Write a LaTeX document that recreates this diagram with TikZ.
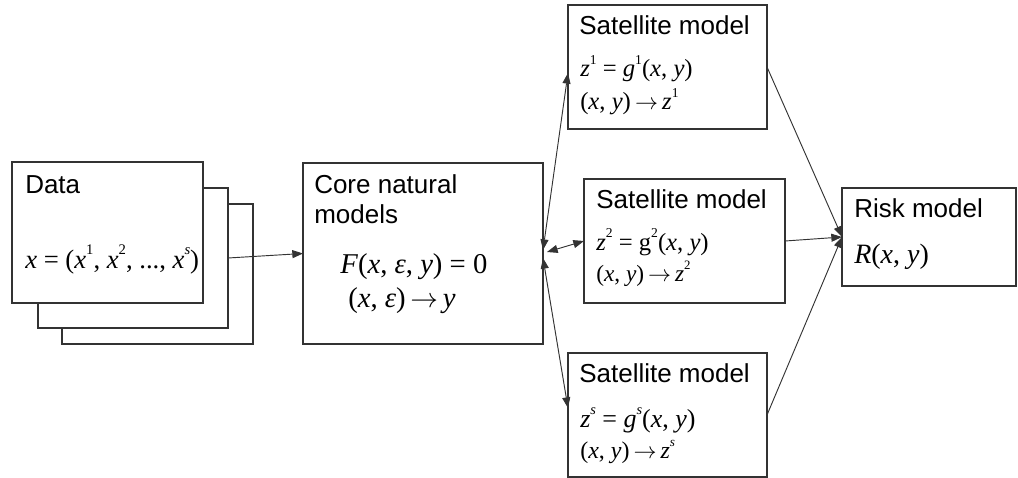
\documentclass[tikz,border=0pt]{standalone}
\usepackage{fontspec}
\setmainfont{Liberation Sans}
\newfontfamily\tms{Liberation Serif}
\usetikzlibrary{arrows.meta,calc}
\tikzset{
	box/.style={draw=black!80, line width=0.9pt, fill=white, anchor=north west, inner sep=0pt, outer sep=0pt},
	wh/.style 2 args={minimum width=#1*0.75pt, minimum height=#2*0.75pt},
	lbl/.style={anchor=base west, inner sep=0pt, font=\fontsize{19.5}{23}\selectfont},
	eq/.style={anchor=base west, inner sep=0pt, font=\fontsize{#1}{#1}\tms},
	link/.style={draw=black!80, line width=0.7pt, arrows={-Triangle[length=8pt,width=6pt]}},
	dlink/.style={draw=black!80, line width=0.7pt, arrows={Triangle[length=8pt,width=6pt]-Triangle[length=8pt,width=6pt]}},
}
\newcommand{\vi}[1]{\textit{#1}}
\newcommand{\up}[1]{\raisebox{0.5em}{\scalebox{0.55}{#1}}}
\newcommand{\ar}{\,$\rightarrow$\,}

\begin{document}
\begin{tikzpicture}[x=0.75pt, y=-0.75pt]
		\useasboundingbox (0,0) rectangle (1018,478);
		%%%%% START %%%%%
		% data stack
		\node[box, wh={191}{140}] (data3) at (62,204) {};
		\node[box, wh={190}{140}] (data2) at (38,188) {};
		\node[box, wh={191}{141}] (data1) at (12,162) {};
		\node[lbl] (datat) at (25,193) {Data};
		\node[eq=20] (datax) at (25,268) {\vi{x} = (\vi{x}\up{1}, \vi{x}\up{2}, ..., \vi{x}\up{\vi{s}})};
		
		% core
		\node[box, wh={240}{181}] (core) at (303,163) {};
		\node[lbl] (coret) at (314,193) {Core natural};
		\node[lbl] (corem) at (314,223) {models};
		\node[eq=21.5] (coref) at (340,273) {\vi{F}(\vi{x}, \vi{ε}, \vi{y}) = 0};
		\node[eq=21.5] (corey) at (348,307) {(\vi{x}, \vi{ε})\ar\vi{y}};
		
		% satellites
		\node[box, wh={199}{124}] (sat1) at (568,5) {};
		\node[lbl] (sat1t) at (579,35) {Satellite model};
		\node[eq=18.5] (sat1f) at (580,77) {\vi{z}\up{1} = \vi{g}\up{1}(\vi{x}, \vi{y})};
		\node[eq=18.5] (sat1z) at (580,110) {(\vi{x}, \vi{y})\ar\vi{z}\up{1}};
		
		\node[box, wh={201}{124}] (sat2) at (584,179) {};
		\node[lbl] (sat2t) at (596,208) {Satellite model};
		\node[eq=18.5] (sat2f) at (596,250) {\vi{z}\up{2} = g\up{2}(\vi{x}, \vi{y})};
		\node[eq=17.5] (sat2z) at (596,281) {(\vi{x}, \vi{y})\ar\vi{z}\up{2}};
		
		\node[box, wh={199}{124}] (sat3) at (568,353) {};
		\node[lbl] (sat3t) at (579,382) {Satellite model};
		\node[eq=19.5] (sat3f) at (580,427) {\vi{z}\up{\vi{s}} = \vi{g}\up{\vi{s}}(\vi{x}, \vi{y})};
		\node[eq=18] (sat3z) at (580,458) {(\vi{x}, \vi{y})\ar\vi{z}\up{\vi{s}}};
		
		% risk
		\node[box, wh={174}{98}] (risk) at (842,188) {};
		\node[lbl] (riskt) at (854,217) {Risk model};
		\node[eq=21] (riskr) at (854,263) {\vi{R}(\vi{x}, \vi{y})};
		
		% links
		\coordinate (c1) at (543,250);
		\coordinate (c2) at (547,252);
		\coordinate (c3) at (543,258);
		\draw[link] (data2.east) -- (core.west);
		\draw[dlink] (c1) -- ($(sat1.west)+(0,6)$);
		\draw[dlink] (c2) -- (sat2.west);
		\draw[dlink] (c3) -- ($(sat3.west)+(0,-7)$);
		\draw[link] (sat1.east) -- (risk.west);
		\draw[link] (sat2.east) -- (risk.west);
		\draw[link] (sat3.east) -- (risk.west);
		%%%%% END %%%%%
\end{tikzpicture}
\end{document}
